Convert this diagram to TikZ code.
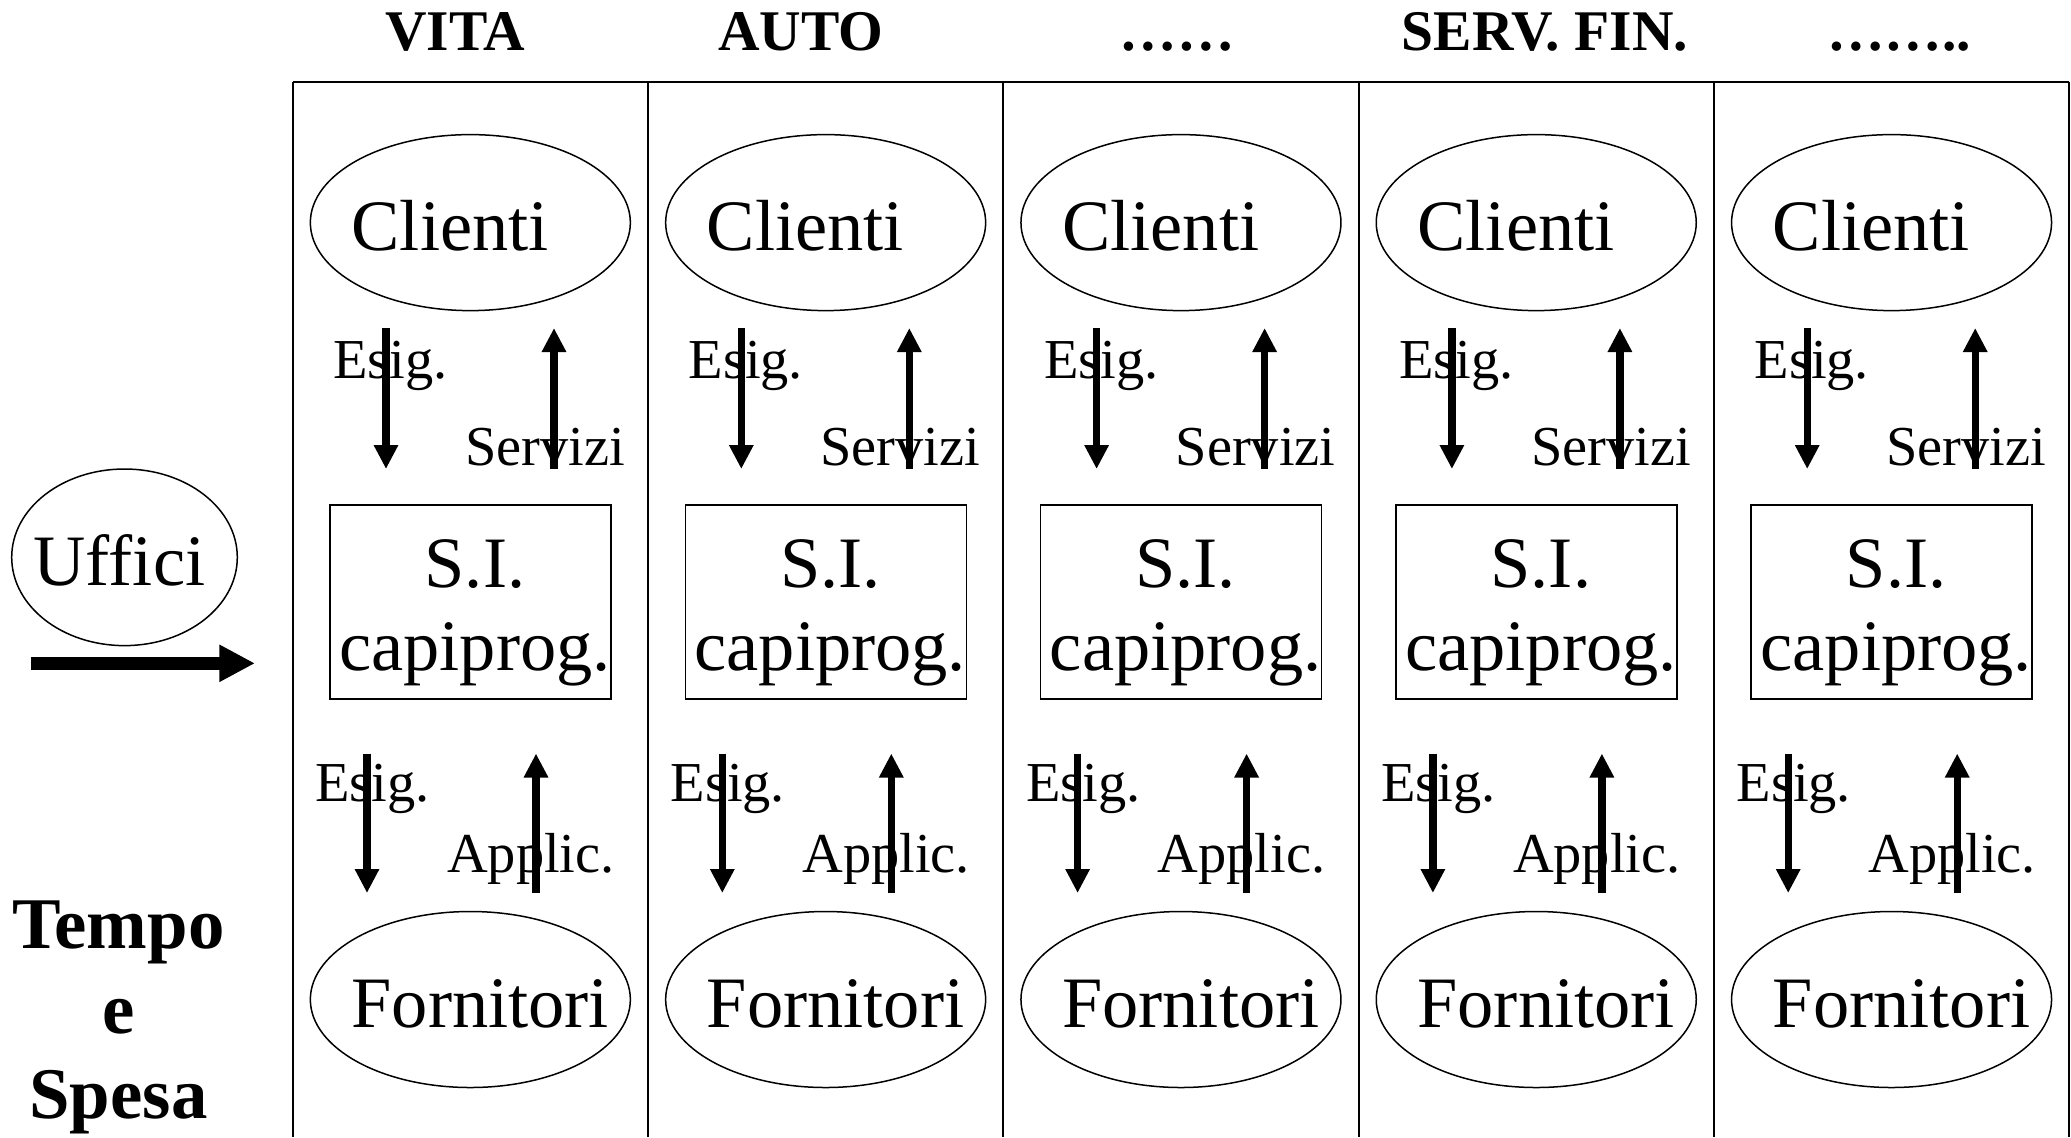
\documentclass[tikz,border=0pt]{standalone}
\usepackage{fontspec}
\setmainfont{Liberation Serif}
\usetikzlibrary{shapes.geometric,arrows.meta}
\begin{document}
\begin{tikzpicture}[x=0.5pt,y=-0.5pt,
  frame/.style={line width=1pt},
  oval/.style={draw,ellipse,line width=0.75pt,minimum width=160pt,minimum height=88pt,inner sep=0pt},
  sibox/.style={draw,rectangle,line width=0.75pt,minimum width=140.5pt,minimum height=97pt,inner sep=0pt},
  big/.style={font=\fontsize{36.2pt}{43pt}\selectfont,inner sep=0pt},
  small/.style={font=\fontsize{28.2pt}{33pt}\selectfont,inner sep=0pt,anchor=base west},
  head/.style={font=\fontsize{28.75pt}{34pt}\selectfont\bfseries,inner sep=0pt,anchor=base},
  side/.style={font=\fontsize{36.4pt}{43pt}\selectfont\bfseries,inner sep=0pt,anchor=base},
  flow/.style={line width=3.6pt,-{Triangle[length=12pt,width=11.5pt]}},
  bigflow/.style={line width=6.5pt,-{Triangle[length=17.8pt,width=17.4pt]}},
]
\useasboundingbox (0,0) rectangle (2071,1137);

% headers
\node[head] (hvita) at (455,50) {VITA};
\node[head] (hauto) at (801,50) {AUTO};
\node[head] (hdots) at (1177,50) {……};
\node[head] (hserv) at (1545,50) {SERV. FIN.};
\node[head] (hmore) at (1899,50) {……..};

% frame
\coordinate (tl) at (292.7,81.7);
\coordinate (tr) at (2069,81.7);
\draw[frame] (tl) -- (tr);
\foreach \x [count=\k] in {292.7,648,1003.3,1358.6,1713.9,2069}{
  \coordinate (vt\k) at (\x,81.7);
  \coordinate (vb\k) at (\x,1137);
  \draw[frame] (vt\k) -- (vb\k);
}

% left side
\node[oval,minimum width=112.8pt,minimum height=88.3pt] (uff) at (124.5,557.3) {};
\node[big,anchor=base] (ufft) at (119.5,585) {Uffici};
\coordinate (bgA) at (30.7,663.3);
\coordinate (bgB) at (255,663.3);
\draw[bigflow] (bgA) -- (bgB);
\node[side] (tempo) at (118.5,948) {Tempo};
\node[side] (ee) at (118.5,1033) {e};
\node[side] (spesa) at (118.5,1118) {Spesa};

% columns
\foreach \i/\L in {1/292.7,2/648,3/1003.3,4/1358.6,5/1713.9}{
  \node[oval] (cli\i) at (\L+177.65,222.6) {};
  \node[big,anchor=base west] (clit\i) at (\L+58.5,250.5) {Clienti};
  \node[sibox] (si\i) at (\L+177.8,602) {};
  \node[big,anchor=base] (sit\i) at (\L+182.3,587.5) {S.I.};
  \node[big,anchor=base] (cpt\i) at (\L+182.3,670.5) {capiprog.};
  \node[oval] (for\i) at (\L+177.65,999.5) {};
  \node[big,anchor=base west] (fort\i) at (\L+58.5,1027.5) {Fornitori};
  \node[small] (esa\i) at (\L+40.3,378) {Esig.};
  \node[small] (ser\i) at (\L+172,465) {Servizi};
  \node[small] (esb\i) at (\L+22.3,801.6) {Esig.};
  \node[small] (app\i) at (\L+154,872) {Applic.};
  \coordinate (ua\i) at (\L+93.3,328);
  \coordinate (ub\i) at (\L+93.3,469);
  \coordinate (sa\i) at (\L+261.3,469);
  \coordinate (sb\i) at (\L+261.3,328);
  \coordinate (la\i) at (\L+74.3,753.5);
  \coordinate (lb\i) at (\L+74.3,893);
  \coordinate (aa\i) at (\L+243.3,893);
  \coordinate (ab\i) at (\L+243.3,753.5);
  \draw[flow] (ua\i) -- (ub\i);
  \draw[flow] (sa\i) -- (sb\i);
  \draw[flow] (la\i) -- (lb\i);
  \draw[flow] (aa\i) -- (ab\i);
}
\end{tikzpicture}
\end{document}
